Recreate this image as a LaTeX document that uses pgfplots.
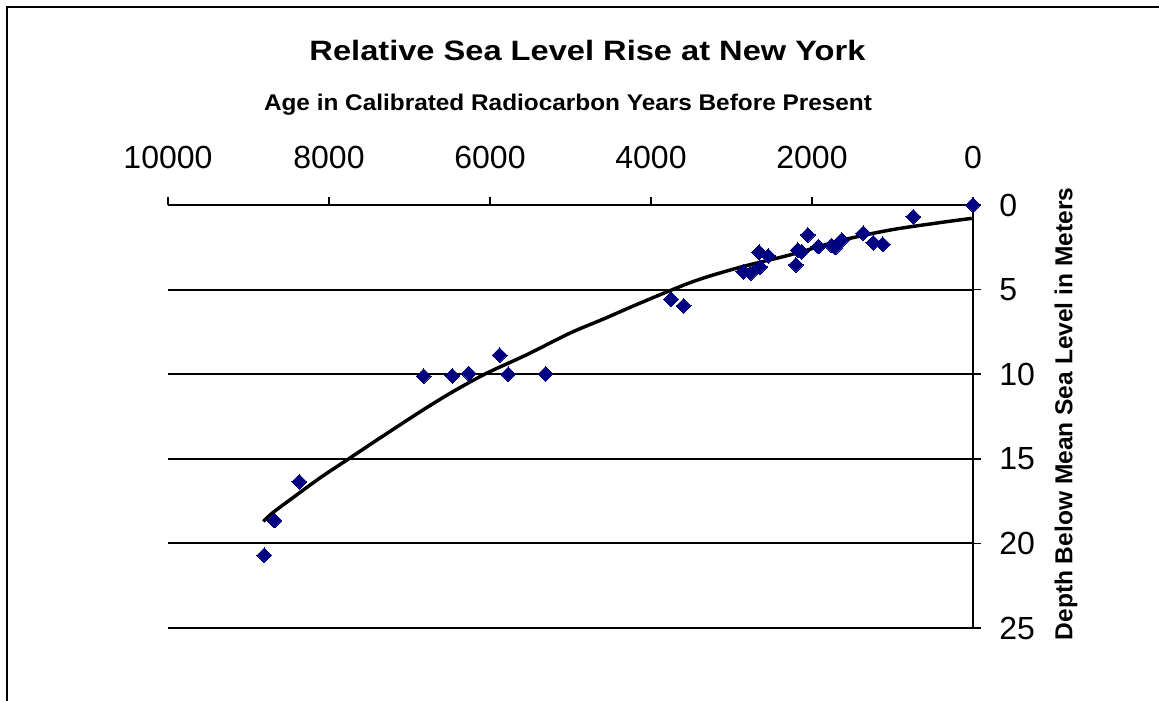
\documentclass[border=0pt]{standalone}
\usepackage{fontspec}
\setmainfont{Liberation Sans}
\usepackage{graphicx}
\usepackage{pgfplots}
\pgfplotsset{compat=1.18}
\usepackage{pgfplotstable}
\definecolor{navy}{RGB}{0,0,128}
\pgfplotstableread{
age depth
0 0
742 0.70
1122 2.32
1238 2.23
1363 1.67
1631 2.07
1714 2.52
1755 2.40
1922 2.46
2053 1.77
2128 2.76
2178 2.66
2199 3.54
2543 3.01
2646 3.66
2658 2.79
2762 4.03
2853 3.94
3594 5.96
3752 5.57
5308 9.98
5773 10.00
5880 8.87
6264 9.96
6468 10.10
6824 10.11
8369 16.35
8679 18.65
8804 20.70
}\datapts
\pgfplotstableread{
age depth
8816 18.70
8692 18.16
8443 17.28
8112 16.13
7739 14.95
7325 13.64
6828 12.10
6456 11.02
6041 9.94
5544 8.85
5006 7.57
4571 6.70
4137 5.80
3474 4.52
2894 3.68
2273 2.95
1652 2.11
1031 1.48
410 1.04
16 0.79
}\trend
\begin{document}
\begin{tikzpicture}[x=0.75pt,y=0.75pt]
\useasboundingbox (0,0) rectangle (1159,700);
\begin{scope}
\clip (0,0) rectangle (1159,700);
\draw[line width=1.6pt] (7,-20) -- (7,693) -- (1180,693);
\end{scope}
\coordinate (SW) at (168,72);
\node[anchor=base, inner sep=0pt] at (587.5,639) {\scalebox{1.165}[1]{\fontsize{21}{24}\selectfont\bfseries Relative Sea Level Rise at New York}};
\node[anchor=base, inner sep=0pt] at (568,589) {\scalebox{1.075}[1]{\fontsize{17}{20}\selectfont\bfseries Age in Calibrated Radiocarbon Years Before Present}};
\node[rotate=90, inner sep=0pt] at (1066,286) {\fontsize{18.4}{21}\selectfont\bfseries Depth Below Mean Sea Level in Meters};
\begin{axis}[
  at={(SW)}, anchor=south west, scale only axis,
  width=603.75pt, height=317.25pt,
  xmin=0, xmax=10000, ymin=0, ymax=25,
  x dir=reverse, y dir=reverse,
  axis x line*=top, axis y line*=right,
  xtick={0,2000,...,10000}, ytick={0,5,...,25},
  scaled x ticks=false,
  ymajorgrids, grid style={black, line width=1.5pt},
  axis line style={black, line width=1.5pt, -},
  major tick style={black, line width=1.2pt},
  major tick length=6pt, tick align=outside,
  ticklabel style={font=\fontsize{24}{28}\selectfont, inner sep=0pt},
  xticklabel style={yshift=21pt},
  yticklabel style={xshift=13.5pt},
  /pgf/number format/.cd, 1000 sep={}, assume math mode=true,
  /pgfplots/.cd,
  clip=false,
]
\addplot[only marks, mark=square*, mark size=3.9pt, mark options={fill=navy, draw=navy, rotate=45, line width=0pt}] table[x=age, y=depth] {\datapts};
\addplot[black, line width=2.6pt, smooth, no markers] table[x=age, y=depth] {\trend};
\end{axis}
\end{tikzpicture}
\end{document}
